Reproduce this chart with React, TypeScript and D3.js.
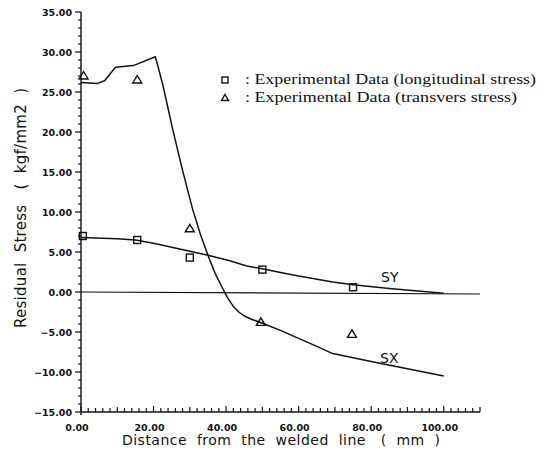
import React, { useRef, useEffect } from "react";
import * as d3 from "d3";

// distance from the welded line (mm) and residual stress (kgf/mm2)
const sxDist = [0, 4.4, 6.5, 9.5, 14.4, 20.5, 22.5, 25.3, 28, 30.8, 33, 35, 37, 39, 40.5, 42, 43.5, 45, 47, 50, 55, 60, 65, 69.4, 80, 90, 100];
const sxStress = [26.2, 26.05, 26.4, 28.1, 28.3, 29.4, 26, 20.3, 15.2, 10.3, 7.1, 4.6, 2.3, 0.5, -0.8, -1.8, -2.5, -3.0, -3.4, -3.9, -4.8, -5.8, -6.8, -7.7, -8.7, -9.6, -10.5];

const syDist = [0, 10, 15, 20, 25, 30, 35, 41, 45.7, 50, 55, 60, 69.4, 75, 85, 100];
const syStress = [6.8, 6.65, 6.5, 6.1, 5.6, 5.1, 4.6, 3.9, 3.25, 2.9, 2.45, 2.0, 1.25, 0.9, 0.45, -0.15];

const longDist = [0.5, 15.5, 30, 50, 75];
const longStress = [7.0, 6.5, 4.3, 2.8, 0.6];

const transDist = [0.7, 15.5, 30, 49.6, 74.7];
const transStress = [27.0, 26.5, 7.9, -3.8, -5.3];

const yTicks = [35, 30, 25, 20, 15, 10, 5, 0, -5, -10, -15];
const xTicks = [0, 20, 40, 60, 80, 100];

const legendLines = [
  ": Experimental Data (longitudinal stress)",
  ": Experimental Data (transvers stress)"
];

function App() {
  const ref = useRef(null);

  const w = 547,
    h = 456;

  useEffect(() => {
    const root = d3.select(ref.current);
    root.selectAll("*").remove();

    const svg = root
      .append("svg")
      .attr("width", w)
      .attr("height", h)
      .style("position", "absolute")
      .style("left", 0)
      .style("top", 0)
      .style("background", "#fff");

    const x = d3.scaleLinear().domain([0, 110]).range([81, 480]);
    const y = d3.scaleLinear().domain([-15, 35]).range([412, 12]);

    const ink = "#111";
    const tickFont = "'DejaVu Sans', sans-serif";

    // y axis
    svg
      .append("line")
      .attr("x1", x(0))
      .attr("x2", x(0))
      .attr("y1", y(35))
      .attr("y2", y(-15) + 3)
      .attr("stroke", ink)
      .attr("stroke-width", 1.4);

    svg
      .append("g")
      .selectAll("line")
      .data(d3.range(-15, 36, 1))
      .enter()
      .append("line")
      .attr("x1", d => x(0) - (d % 5 === 0 ? 6 : 3))
      .attr("x2", x(0))
      .attr("y1", d => y(d))
      .attr("y2", d => y(d))
      .attr("stroke", ink)
      .attr("stroke-width", 1.2);

    svg
      .append("g")
      .selectAll("text")
      .data(yTicks)
      .enter()
      .append("text")
      .attr("x", 72)
      .attr("y", d => y(d) + 4)
      .attr("text-anchor", "end")
      .attr("font-family", tickFont)
      .attr("font-weight", "bold")
      .attr("font-size", 9.5)
      .attr("fill", ink)
      .text(d => (d < 0 ? "\u2212" + (-d).toFixed(2) : d.toFixed(2)));

    // x axis
    svg
      .append("line")
      .attr("x1", x(0))
      .attr("x2", x(110))
      .attr("y1", y(-15))
      .attr("y2", y(-15))
      .attr("stroke", ink)
      .attr("stroke-width", 1.4);

    svg
      .append("g")
      .selectAll("line")
      .data(d3.range(0, 111, 2))
      .enter()
      .append("line")
      .attr("x1", d => x(d))
      .attr("x2", d => x(d))
      .attr("y1", y(-15))
      .attr("y2", d => y(-15) - (d % 20 === 0 ? 6 : d % 10 === 0 ? 5 : 4))
      .attr("stroke", ink)
      .attr("stroke-width", 1.2);

    svg
      .append("g")
      .selectAll("text")
      .data(xTicks)
      .enter()
      .append("text")
      .attr("x", d => x(d) - 4)
      .attr("y", 431)
      .attr("text-anchor", "middle")
      .attr("font-family", tickFont)
      .attr("font-weight", "bold")
      .attr("font-size", 9.5)
      .attr("fill", ink)
      .text(d => d.toFixed(2));

    // zero line
    svg
      .append("line")
      .attr("x1", x(0))
      .attr("x2", x(110))
      .attr("y1", y(0))
      .attr("y2", y(0) + 2)
      .attr("stroke", ink)
      .attr("stroke-width", 1.2);

    // axis titles
    svg
      .append("text")
      .attr("x", 122)
      .attr("y", 445)
      .attr("font-family", tickFont)
      .attr("font-size", 14)
      .attr("textLength", 318)
      .attr("lengthAdjust", "spacing")
      .attr("fill", ink)
      .attr("xml:space", "preserve")
      .text("Distance  from  the  welded  line   (  mm  )");

    svg
      .append("text")
      .attr("transform", "translate(26, 328) rotate(-90)")
      .attr("font-family", tickFont)
      .attr("font-size", 15)
      .attr("textLength", 240)
      .attr("lengthAdjust", "spacing")
      .attr("fill", ink)
      .attr("xml:space", "preserve")
      .text("Residual  Stress   (  kgf/mm2  )");

    // curves
    const line = d3
      .line()
      .x(d => x(d[0]))
      .y(d => y(d[1]));

    svg
      .append("path")
      .datum(sxDist.map((d, i) => [d, sxStress[i]]))
      .attr("d", line)
      .attr("fill", "none")
      .attr("stroke", ink)
      .attr("stroke-width", 1.5)
      .attr("stroke-linejoin", "round");

    svg
      .append("path")
      .datum(syDist.map((d, i) => [d, syStress[i]]))
      .attr("d", line)
      .attr("fill", "none")
      .attr("stroke", ink)
      .attr("stroke-width", 1.5)
      .attr("stroke-linejoin", "round");

    svg
      .append("text")
      .attr("x", 380)
      .attr("y", y(-8.9))
      .attr("font-family", tickFont)
      .attr("font-size", 14)
      .attr("fill", ink)
      .text("SX");

    svg
      .append("text")
      .attr("x", 381)
      .attr("y", y(1.3))
      .attr("font-family", tickFont)
      .attr("font-size", 14)
      .attr("fill", ink)
      .text("SY");

    // markers
    const sq = 7;
    const tri = "M0,-4.5L4.5,3L-4.5,3Z";

    svg
      .append("g")
      .selectAll("rect")
      .data(longDist.map((d, i) => [d, longStress[i]]))
      .enter()
      .append("rect")
      .attr("x", d => x(d[0]) - sq / 2)
      .attr("y", d => y(d[1]) - sq / 2)
      .attr("width", sq)
      .attr("height", sq)
      .attr("fill", "none")
      .attr("stroke", ink)
      .attr("stroke-width", 1.4);

    svg
      .append("g")
      .selectAll("path")
      .data(transDist.map((d, i) => [d, transStress[i]]))
      .enter()
      .append("path")
      .attr("transform", d => `translate(${x(d[0])},${y(d[1])})`)
      .attr("d", tri)
      .attr("fill", "none")
      .attr("stroke", ink)
      .attr("stroke-width", 1.4);

    // legend
    const lg = svg.append("g");
    lg.append("rect")
      .attr("x", 222)
      .attr("y", 77)
      .attr("width", 6)
      .attr("height", 6)
      .attr("fill", "none")
      .attr("stroke", ink)
      .attr("stroke-width", 1.4);
    lg.append("path")
      .attr("transform", "translate(225,98)")
      .attr("d", "M0,-3.5L3.5,2.5L-3.5,2.5Z")
      .attr("fill", "none")
      .attr("stroke", ink)
      .attr("stroke-width", 1.4);

    lg.selectAll("text")
      .data(legendLines)
      .enter()
      .append("text")
      .attr("x", 245)
      .attr("y", (d, i) => 84 + i * 18)
      .attr("font-family", "'Liberation Serif', serif")
      .attr("font-size", 14)
      .attr("textLength", (d, i) => (i === 0 ? 291 : 272))
      .attr("lengthAdjust", "spacingAndGlyphs")
      .attr("fill", ink)
      .text(d => d);
  }, []);

  return <div className="App" ref={ref}></div>;
}

export default App;
